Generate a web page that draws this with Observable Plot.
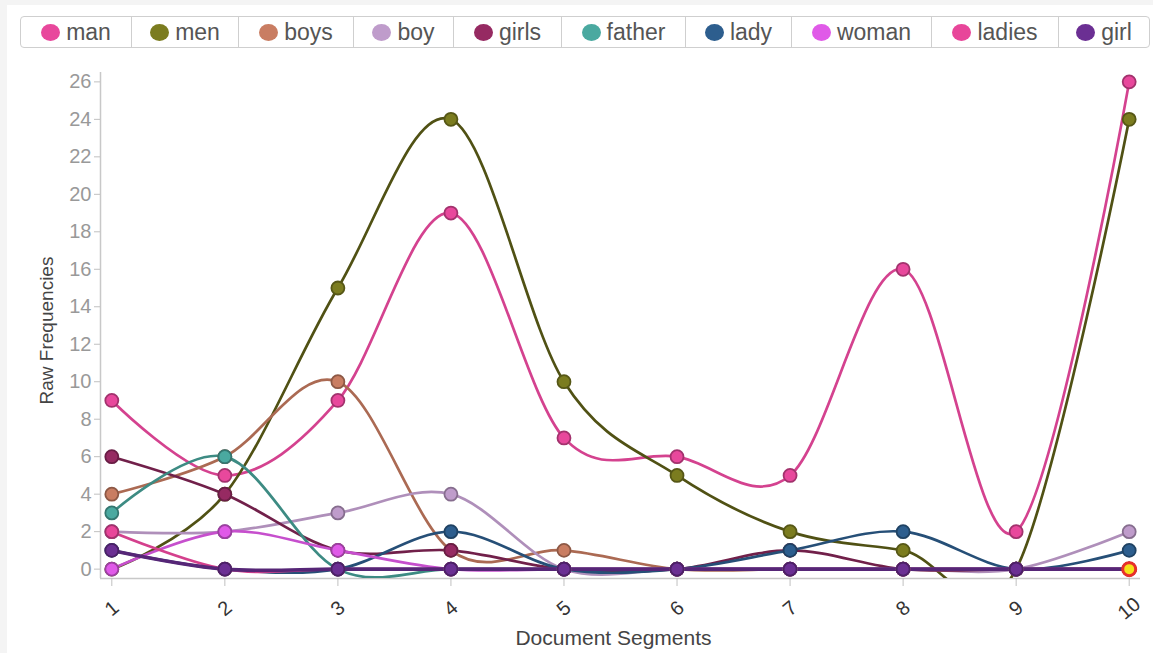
<!DOCTYPE html>
<html>
<head>
<meta charset="utf-8">
<script src="https://cdn.jsdelivr.net/npm/d3@7"></script>
<script src="https://cdn.jsdelivr.net/npm/@observablehq/plot@0.6"></script>
<style>
  html, body { margin: 0; padding: 0; background: #f4f4f4; }
  body { width: 1153px; height: 653px; overflow: hidden; position: relative; font-family: "Liberation Sans", Arial, Helvetica, sans-serif; }
  #panel { position: absolute; left: 7px; top: 5px; width: 1146px; height: 648px; background: #fff; }
  #legend { position: absolute; left: 20px; top: 16px; height: 30px; display: flex; border: 1px solid #cfcfcf; border-radius: 4px; background: #fff; box-sizing: content-box; }
  .item { display: flex; align-items: center; justify-content: center; border-left: 1px solid #cfcfcf; font-size: 23px; color: #555; box-sizing: border-box; height: 30px; gap: 6px; }
  .item:first-child { border-left: none; }
  .dot { width: 19px; height: 17px; border-radius: 50%; display: inline-block; }
  #chart { position: absolute; left: 0; top: 50px; }
</style>
</head>
<body>
<div id="panel"></div>
<div id="legend"></div>
<div id="chart"></div>
<script>
const segments = [1, 2, 3, 4, 5, 6, 7, 8, 9, 10];
const terms = ["man", "men", "boys", "boy", "girls", "father", "lady", "woman", "ladies", "girl"];
const colors = ["#e8489c", "#7b7c1f", "#c97d62", "#bf9ccb", "#962a62", "#4aa9a0", "#2d5e8e", "#e05ae8", "#e8469a", "#6b2f93"];
const yTicks = [0, 2, 4, 6, 8, 10, 12, 14, 16, 18, 20, 22, 24, 26];

const man    = [9, 5, 9, 19, 7, 6, 5, 16, 2, 26];
const men    = [0, 4, 15, 24, 10, 5, 2, 1, 0, 24];
const boys   = [4, 6, 10, 1, 1, 0, 0, 0, 0, 0];
const boy    = [2, 2, 3, 4, 0, 0, 0, 0, 0, 2];
const girls  = [6, 4, 1, 1, 0, 0, 1, 0, 0, 0];
const father = [3, 6, 0, 0, 0, 0, 0, 0, 0, 0];
const lady   = [1, 0, 0, 2, 0, 0, 1, 2, 0, 1];
const woman  = [0, 2, 1, 0, 0, 0, 0, 0, 0, 0];
const ladies = [2, 0, 0, 0, 0, 0, 0, 0, 0, 0];
const girl   = [1, 0, 0, 0, 0, 0, 0, 0, 0, 0];
const series = [man, men, boys, boy, girls, father, lady, woman, ladies, girl];

// highlighted point (selected)
const highlight = [{term: "ladies", segment: 10, value: 0}];

// legend
const legendWidths = [110, 107, 115, 100, 108, 124, 106, 140, 127, 91];
const legend = document.getElementById("legend");
terms.forEach((t, i) => {
  const it = document.createElement("div");
  it.className = "item";
  it.style.width = legendWidths[i] + "px";
  const dot = document.createElement("span");
  dot.className = "dot";
  dot.style.background = colors[i];
  const lab = document.createElement("span");
  lab.textContent = t;
  it.appendChild(dot); it.appendChild(lab);
  legend.appendChild(it);
});

const rows = [];
terms.forEach((t, i) => series[i].forEach((v, j) => rows.push({term: t, idx: i, segment: segments[j], value: v})));

const lineDarken = [0.25, 1.2, 0.45, 0.25, 0.8, 0.55, 0.5, 0.35, 0.25, 0.6];
const lineColor = i => d3.color(colors[i]).darker(lineDarken[i]).formatHex();
const dotStroke = i => d3.color(colors[i]).darker(1.0).formatHex();

const marks = [];
terms.forEach((t, i) => {
  const data = rows.filter(r => r.idx === i);
  marks.push(Plot.line(data, {x: "segment", y: "value", stroke: lineColor(i), strokeWidth: t === "girl" ? 3.6 : 2.7, curve: "cardinal", clip: "frame"}));
});
terms.forEach((t, i) => {
  const data = rows.filter(r => r.idx === i);
  marks.push(Plot.dot(data, {x: "segment", y: "value", r: 6.5, fill: colors[i], stroke: dotStroke(i), strokeWidth: 1.8}));
});
marks.push(Plot.dot(highlight, {x: "segment", y: "value", r: 6.5, fill: "#f5e11a", stroke: "#e8302a", strokeWidth: 3}));

const chart = Plot.plot({
  width: 1153,
  height: 603,
  marginLeft: 100,
  marginRight: 13,
  marginTop: 22,
  marginBottom: 75,
  style: {fontFamily: "'Liberation Sans', Arial, Helvetica, sans-serif", background: "transparent"},
  x: {domain: [0.9, 10.1], axis: null},
  y: {domain: [-0.5, 26.5], axis: null},
  marks: [
    Plot.ruleX([0.9], {stroke: "#c8c8c8", strokeWidth: 1.5}),
    Plot.ruleY([-0.5], {stroke: "#c8c8c8", strokeWidth: 1.5}),
    Plot.axisY(yTicks, {anchor: "left", tickSize: 6, tickPadding: 3, stroke: "#c0c0c0", fill: "#999", fontSize: 20, label: null}),
    Plot.axisX(segments, {anchor: "bottom", tickSize: 8, stroke: "#c0c0c0", tickFormat: () => "", label: null}),
    Plot.text(segments, {x: d => d, text: d => String(d), frameAnchor: "bottom", dy: 30, rotate: -40, textAnchor: "middle", lineAnchor: "middle", fontSize: 20, fill: "#333"}),
    Plot.text(["Document Segments"], {text: d => d, frameAnchor: "bottom", dx: -7, dy: 60, textAnchor: "middle", lineAnchor: "middle", fontSize: 21, fill: "#444"}),
    Plot.text(["Raw Frequencies"], {text: d => d, frameAnchor: "left", dx: -54, dy: 5, rotate: -90, textAnchor: "middle", lineAnchor: "middle", fontSize: 19, fill: "#444"}),
    ...marks
  ]
});
document.getElementById("chart").appendChild(chart);
</script>
</body>
</html>
